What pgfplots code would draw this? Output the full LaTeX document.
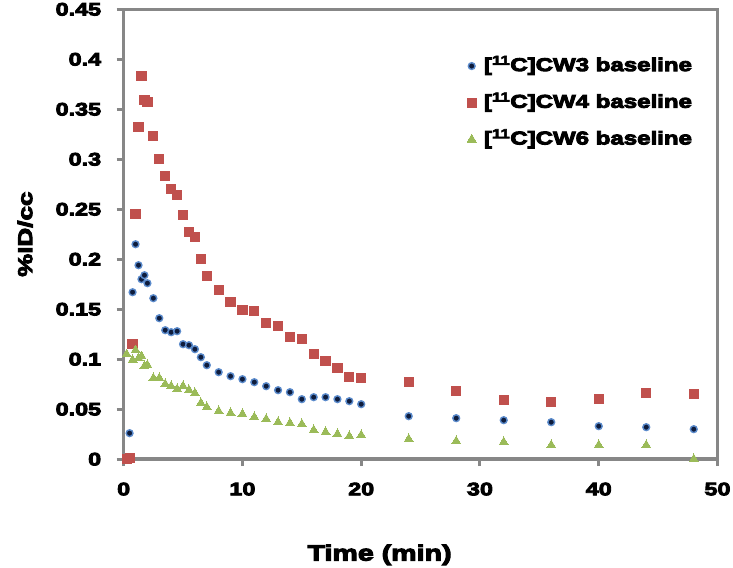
\documentclass[border=0pt]{standalone}
\usepackage{fontspec}
\setmainfont{Liberation Sans}[BoldFeatures={FakeBold=5,FakeStretch=1.3}]
\usepackage{pgfplots}
\usepackage{pgfplotstable}
\pgfplotsset{compat=1.18}

\definecolor{axgray}{HTML}{878787}
\definecolor{cwblue}{HTML}{0E1C3C}
\definecolor{cwring}{HTML}{5A8ACB}
\definecolor{cwred}{HTML}{C0504D}
\definecolor{cwgreen}{HTML}{9BBB59}

% time (min), %ID/cc
\pgfplotstableread{
t v
0.5 0.026
0.75 0.167
1.0 0.215
1.25 0.194
1.5 0.180
1.75 0.184
2.0 0.176
2.5 0.161
3 0.141
3.5 0.129
4 0.127
4.5 0.128
5 0.115
5.5 0.114
6 0.110
6.5 0.102
7 0.094
8 0.087
9 0.083
10 0.080
11 0.077
12 0.073
13 0.069
14 0.067
15 0.060
16 0.062
17 0.062
18 0.060
19 0.058
20 0.055
24 0.043
28 0.041
32 0.039
36 0.037
40 0.033
44 0.032
48 0.030
}\cwthree

\pgfplotstableread{
t v
0.25 0.000
0.5 0.001
0.75 0.115
1.0 0.245
1.25 0.332
1.5 0.383
1.75 0.359
2.0 0.357
2.5 0.323
3 0.300
3.5 0.283
4 0.270
4.5 0.264
5 0.244
5.5 0.227
6 0.222
6.5 0.200
7 0.183
8 0.169
9 0.157
10 0.149
11 0.148
12 0.136
13 0.133
14 0.122
15 0.120
16 0.105
17 0.098
18 0.091
19 0.082
20 0.081
24 0.077
28 0.068
32 0.059
36 0.057
40 0.060
44 0.066
48 0.065
}\cwfour

\pgfplotstableread{
t v
0.25 0.105
0.75 0.099
1.0 0.109
1.25 0.101
1.5 0.103
1.75 0.093
2.0 0.094
2.5 0.081
3 0.081
3.5 0.075
4 0.073
4.5 0.070
5 0.073
5.5 0.069
6 0.066
6.5 0.056
7 0.052
8 0.048
9 0.046
10 0.045
11 0.042
12 0.040
13 0.037
14 0.036
15 0.035
16 0.029
17 0.027
18 0.025
19 0.023
20 0.024
24 0.020
28 0.018
32 0.017
36 0.014
40 0.014
44 0.014
48 0.000
}\cwsix

\pgfplotsset{
  dotleg/.style={legend image code/.code={
    \path (-4bp,-4bp) rectangle (4bp,4bp);
    \draw[##1] plot coordinates {(0bp,0bp)};}},
}

\begin{document}
\begin{tikzpicture}
\begin{axis}[
    name=ax,
    scale only axis,
    width=594bp, height=450bp,
    xmin=0, xmax=50,
    ymin=0, ymax=0.45,
    xtick={0,10,20,30,40,50},
    ytick={0,0.05,0.1,0.15,0.2,0.25,0.3,0.35,0.4,0.45},
    scaled y ticks=false,
    yticklabel style={/pgf/number format/fixed,/pgf/number format/precision=2,
      xshift=-12bp},
    xticklabel style={yshift=-13bp},
    /pgf/number format/assume math mode=true,
    tick label style={font=\fontsize{18bp}{21bp}\selectfont\bfseries},
    axis line style={draw=axgray, line width=3.5bp},
    tick style={draw=axgray, line width=3bp},
    tick align=outside,
    major tick length=7bp,
    xtick pos=bottom, ytick pos=left,
    clip=false,
    xlabel={Time (min)},
    ylabel={\%ID/cc},
    xlabel style={font=\fontsize{22bp}{26bp}\selectfont\bfseries,
      at={(axis description cs:0.431,-0.2127)}, anchor=center},
    ylabel style={font=\fontsize{20bp}{24bp}\selectfont\bfseries,
      at={(axis description cs:-0.166,0.5)}, anchor=center},
    legend style={draw=none, fill=none,
      at={(axis description cs:0.578,0.892)}, anchor=north west,
      font=\fontsize{18.5bp}{22bp}\selectfont\bfseries,
      inner sep=0pt, row sep=20.7bp, column sep=7.7bp,
      nodes={inner sep=0pt, text height=13bp, text depth=3bp}},
    legend cell align=left,
]
\addplot[only marks, mark=*, mark size=3.4bp,
  mark options={fill=cwblue, draw=cwring, line width=1.4bp}] table[x=t,y=v] {\cwthree};
\addplot[only marks, mark=square*, mark size=4.6bp,
  mark options={fill=cwred, draw=cwred, line width=0pt}] table[x=t,y=v] {\cwfour};
\addplot[only marks, mark=triangle*, mark size=5.2bp,
  mark options={fill=cwgreen, draw=cwgreen, line width=0pt}] table[x=t,y=v] {\cwsix};
\legend{}
\addlegendimage{only marks, mark=*, mark size=2.3bp,
  mark options={fill=cwblue, draw=cwring, line width=0.6bp}, dotleg}
\addlegendentry{[\textsuperscript{11}C]CW3 baseline}
\addlegendimage{only marks, mark=square*, mark size=3bp,
  mark options={fill=cwred, draw=cwred}, dotleg}
\addlegendentry{[\textsuperscript{11}C]CW4 baseline}
\addlegendimage{only marks, mark=triangle*, mark size=3.4bp,
  mark options={fill=cwgreen, draw=cwgreen}, dotleg}
\addlegendentry{[\textsuperscript{11}C]CW6 baseline}
\end{axis}
\pgfresetboundingbox
\path ([shift={(-123.7bp,-108.7bp)}]ax.south west) rectangle ([shift={(15.5bp,9.3bp)}]ax.north east);
\end{tikzpicture}
\end{document}
